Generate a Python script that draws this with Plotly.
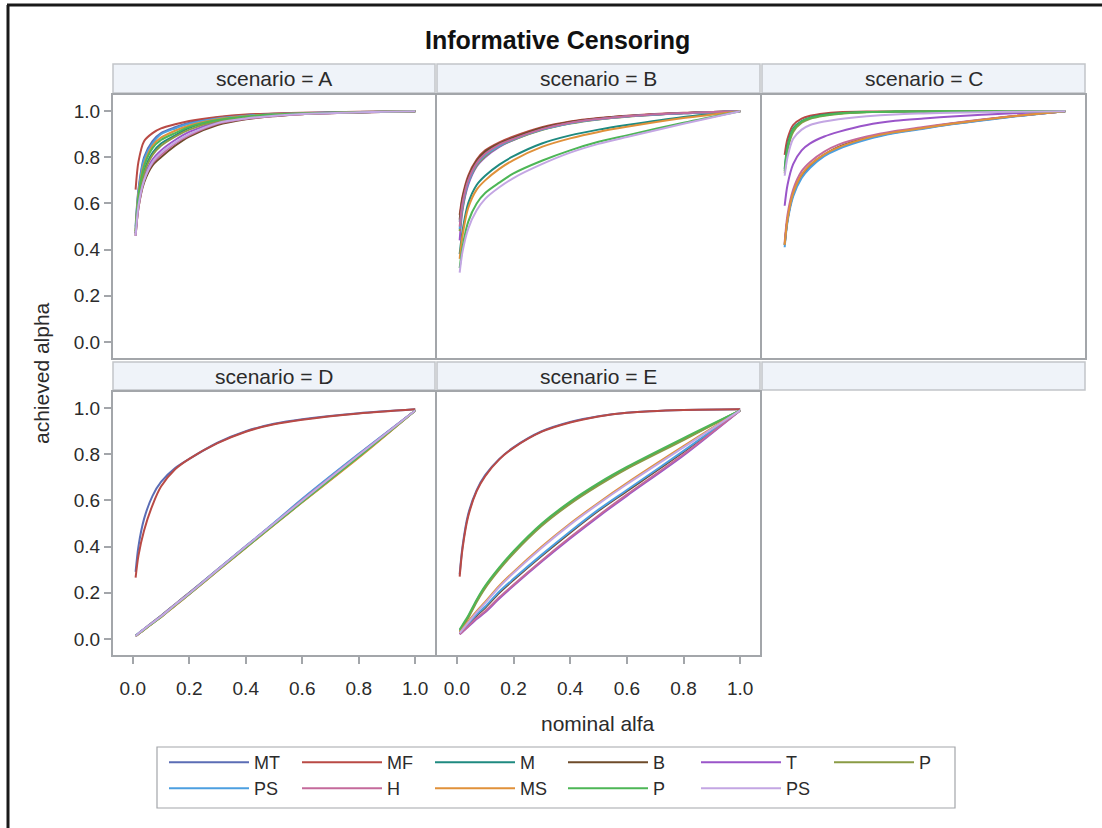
import plotly.graph_objects as go

# ---------------- data ----------------
NOMINAL = [0.01, 0.02, 0.04, 0.07, 0.1, 0.15, 0.2, 0.3, 0.4, 0.5, 0.6, 0.8, 1.0]
SERIES = ["MT", "MF", "M", "B", "T", "P", "PS", "H", "MS", "P", "PS"]
COLORS = ["#5B6DB5", "#B94A45", "#1F8A80", "#6E4B2A", "#9A55C9", "#8A9B45",
          "#4C9FE0", "#C46A9B", "#E0913A", "#4DB656", "#C3A6E3"]
SCENARIOS = ["A", "B", "C", "D", "E"]

# order: MT, MF, M, B, T, P(olive), PS(light blue), H, MS, P(green), PS(lavender)
SCEN_A = [
    [0.50, 0.66, 0.80, 0.87, 0.905, 0.93, 0.95, 0.972, 0.983, 0.989, 0.992, 0.996, 1.0],
    [0.66, 0.78, 0.87, 0.905, 0.925, 0.943, 0.957, 0.975, 0.986, 0.99, 0.993, 0.997, 1.0],
    [0.47, 0.62, 0.74, 0.82, 0.86, 0.895, 0.928, 0.96, 0.975, 0.984, 0.99, 0.995, 1.0],
    [0.46, 0.58, 0.69, 0.765, 0.80, 0.85, 0.89, 0.94, 0.965, 0.978, 0.987, 0.994, 1.0],
    [0.47, 0.60, 0.71, 0.79, 0.83, 0.875, 0.91, 0.952, 0.97, 0.982, 0.988, 0.995, 1.0],
    [0.47, 0.61, 0.73, 0.81, 0.85, 0.89, 0.92, 0.957, 0.973, 0.983, 0.989, 0.995, 1.0],
    [0.49, 0.65, 0.79, 0.86, 0.90, 0.925, 0.945, 0.968, 0.98, 0.987, 0.991, 0.996, 1.0],
    [0.46, 0.58, 0.70, 0.775, 0.81, 0.86, 0.895, 0.945, 0.966, 0.979, 0.987, 0.994, 1.0],
    [0.48, 0.64, 0.77, 0.85, 0.885, 0.915, 0.938, 0.965, 0.978, 0.986, 0.99, 0.996, 1.0],
    [0.48, 0.63, 0.76, 0.84, 0.875, 0.905, 0.932, 0.962, 0.977, 0.985, 0.99, 0.995, 1.0],
    [0.46, 0.59, 0.70, 0.78, 0.82, 0.865, 0.90, 0.948, 0.968, 0.98, 0.988, 0.995, 1.0],
]
SCEN_B = [
    [0.52, 0.61, 0.71, 0.78, 0.82, 0.86, 0.885, 0.925, 0.952, 0.968, 0.978, 0.992, 1.0],
    [0.55, 0.63, 0.72, 0.79, 0.83, 0.865, 0.89, 0.93, 0.955, 0.97, 0.98, 0.993, 1.0],
    [0.38, 0.48, 0.60, 0.68, 0.72, 0.768, 0.805, 0.86, 0.895, 0.92, 0.94, 0.975, 1.0],
    [0.53, 0.62, 0.71, 0.785, 0.825, 0.86, 0.885, 0.927, 0.953, 0.968, 0.979, 0.992, 1.0],
    [0.44, 0.57, 0.68, 0.76, 0.80, 0.845, 0.875, 0.92, 0.948, 0.965, 0.977, 0.991, 1.0],
    [0.48, 0.58, 0.69, 0.765, 0.805, 0.848, 0.876, 0.918, 0.946, 0.964, 0.976, 0.991, 1.0],
    [0.49, 0.59, 0.69, 0.77, 0.81, 0.85, 0.878, 0.92, 0.948, 0.965, 0.977, 0.991, 1.0],
    [0.50, 0.60, 0.70, 0.775, 0.815, 0.855, 0.88, 0.922, 0.95, 0.966, 0.978, 0.992, 1.0],
    [0.36, 0.46, 0.58, 0.66, 0.70, 0.75, 0.788, 0.845, 0.882, 0.91, 0.932, 0.97, 1.0],
    [0.32, 0.41, 0.52, 0.60, 0.645, 0.69, 0.73, 0.785, 0.83, 0.867, 0.895, 0.95, 1.0],
    [0.30, 0.39, 0.49, 0.57, 0.62, 0.67, 0.71, 0.77, 0.82, 0.858, 0.888, 0.945, 1.0],
]
SCEN_C = [
    [0.42, 0.53, 0.64, 0.72, 0.76, 0.81, 0.84, 0.88, 0.907, 0.926, 0.944, 0.975, 1.0],
    [0.81, 0.88, 0.94, 0.968, 0.98, 0.99, 0.995, 0.998, 0.999, 1.0, 1.0, 1.0, 1.0],
    [0.75, 0.85, 0.925, 0.957, 0.972, 0.984, 0.99, 0.996, 0.998, 0.999, 1.0, 1.0, 1.0],
    [0.42, 0.53, 0.64, 0.72, 0.765, 0.812, 0.845, 0.885, 0.91, 0.928, 0.946, 0.976, 1.0],
    [0.59, 0.68, 0.77, 0.83, 0.86, 0.89, 0.91, 0.94, 0.958, 0.968, 0.977, 0.99, 1.0],
    [0.73, 0.83, 0.91, 0.95, 0.967, 0.98, 0.988, 0.995, 0.998, 0.999, 1.0, 1.0, 1.0],
    [0.41, 0.52, 0.63, 0.71, 0.755, 0.805, 0.836, 0.877, 0.905, 0.924, 0.943, 0.974, 1.0],
    [0.43, 0.55, 0.66, 0.74, 0.78, 0.825, 0.855, 0.89, 0.914, 0.931, 0.948, 0.977, 1.0],
    [0.42, 0.53, 0.645, 0.725, 0.768, 0.813, 0.843, 0.883, 0.909, 0.927, 0.945, 0.976, 1.0],
    [0.74, 0.84, 0.92, 0.955, 0.97, 0.982, 0.99, 0.996, 0.998, 0.999, 1.0, 1.0, 1.0],
    [0.72, 0.80, 0.88, 0.92, 0.94, 0.955, 0.965, 0.978, 0.986, 0.99, 0.993, 0.997, 1.0],
]
SCEN_D = [
    [0.29, 0.40, 0.52, 0.62, 0.68, 0.74, 0.78, 0.85, 0.90, 0.932, 0.952, 0.978, 0.995],
    [0.265, 0.36, 0.47, 0.58, 0.66, 0.735, 0.78, 0.848, 0.898, 0.93, 0.95, 0.977, 0.995],
    [0.012, 0.022, 0.041, 0.07, 0.097, 0.147, 0.196, 0.297, 0.397, 0.497, 0.597, 0.79, 0.99],
    [0.013, 0.023, 0.043, 0.072, 0.1, 0.15, 0.2, 0.3, 0.4, 0.5, 0.6, 0.795, 0.99],
    [0.011, 0.021, 0.04, 0.069, 0.096, 0.146, 0.195, 0.296, 0.398, 0.5, 0.605, 0.8, 0.99],
    [0.012, 0.022, 0.04, 0.068, 0.095, 0.145, 0.194, 0.295, 0.395, 0.495, 0.593, 0.788, 0.99],
    [0.013, 0.024, 0.043, 0.071, 0.099, 0.149, 0.199, 0.3, 0.402, 0.503, 0.607, 0.802, 0.99],
    [0.012, 0.022, 0.041, 0.07, 0.098, 0.148, 0.198, 0.298, 0.4, 0.5, 0.602, 0.798, 0.99],
    [0.011, 0.021, 0.039, 0.067, 0.094, 0.144, 0.193, 0.294, 0.394, 0.494, 0.592, 0.785, 0.99],
    [0.012, 0.022, 0.04, 0.068, 0.095, 0.146, 0.195, 0.296, 0.396, 0.496, 0.594, 0.79, 0.99],
    [0.012, 0.023, 0.042, 0.07, 0.097, 0.148, 0.197, 0.299, 0.4, 0.5, 0.6, 0.797, 0.99],
]
SCEN_E = [
    [0.28, 0.40, 0.54, 0.645, 0.71, 0.78, 0.83, 0.90, 0.94, 0.965, 0.98, 0.992, 0.995],
    [0.27, 0.39, 0.53, 0.64, 0.705, 0.778, 0.828, 0.898, 0.938, 0.964, 0.98, 0.992, 0.995],
    [0.035, 0.055, 0.095, 0.165, 0.225, 0.305, 0.375, 0.495, 0.59, 0.67, 0.74, 0.865, 0.99],
    [0.022, 0.036, 0.062, 0.10, 0.135, 0.20, 0.255, 0.36, 0.46, 0.555, 0.64, 0.81, 0.99],
    [0.02, 0.03, 0.052, 0.086, 0.115, 0.175, 0.23, 0.335, 0.435, 0.53, 0.62, 0.795, 0.99],
    [0.03, 0.05, 0.09, 0.16, 0.22, 0.30, 0.37, 0.49, 0.585, 0.665, 0.737, 0.862, 0.99],
    [0.025, 0.038, 0.065, 0.105, 0.14, 0.205, 0.26, 0.365, 0.465, 0.56, 0.645, 0.815, 0.99],
    [0.02, 0.032, 0.055, 0.09, 0.12, 0.18, 0.235, 0.34, 0.44, 0.535, 0.625, 0.80, 0.99],
    [0.03, 0.045, 0.075, 0.12, 0.16, 0.23, 0.29, 0.40, 0.50, 0.59, 0.675, 0.835, 0.99],
    [0.04, 0.06, 0.10, 0.17, 0.23, 0.31, 0.38, 0.50, 0.595, 0.675, 0.745, 0.87, 0.99],
    [0.025, 0.04, 0.07, 0.115, 0.155, 0.225, 0.285, 0.395, 0.495, 0.585, 0.67, 0.83, 0.99],
]
SCEN_DATA = [SCEN_A, SCEN_B, SCEN_C, SCEN_D, SCEN_E]
TICKS = [0.0, 0.2, 0.4, 0.6, 0.8, 1.0]

# ---------------- layout geometry (pixels) ----------------
W, H = 1102, 828
ML, MR = 112, 16
PW = W - ML - MR


def px(x):
    return (x - ML) / PW


def py(y):
    return 1 - y / H


COLS = [(113, 435), (437, 760), (762, 1085)]
ROWS = [(95, 358), (392, 655)]
HEADS = [(64, 93), (362, 390)]
PANELS = [(0, 0), (0, 1), (0, 2), (1, 0), (1, 1)]
FRAME = "#a3a6aa"
LIGHT = "#d4d6d9"
TXT = "#2b2b2b"
FONT = "Arial, Liberation Sans, sans-serif"
TICKFONT = dict(size=19, color=TXT)

fig = go.Figure()

for i, (scen, data) in enumerate(zip(SCENARIOS, SCEN_DATA)):
    ax = "" if i == 0 else str(i + 1)
    for s, (name, color) in enumerate(zip(SERIES, COLORS)):
        fig.add_trace(go.Scatter(
            x=NOMINAL, y=data[s], mode="lines", name=name,
            line=dict(color=color, width=2, shape="spline", smoothing=0.8),
            legendgroup=str(s), showlegend=(i == 0),
            legend="legend" if s < 6 else "legend2",
            xaxis="x" + ax, yaxis="y" + ax, hoverinfo="skip"))

leg_common = dict(orientation="h", xanchor="left", yanchor="top",
                  borderwidth=0, bgcolor="rgba(0,0,0,0)",
                  itemwidth=80, entrywidth=38, font=dict(size=18, color=TXT),
                  tracegroupgap=0)

layout = dict(
    width=W, height=H, paper_bgcolor="white", plot_bgcolor="white",
    margin=dict(l=ML, r=MR, t=0, b=0),
    font=dict(family=FONT, size=16, color=TXT),
    showlegend=True,
    legend=dict(x=px(164), y=py(744), **leg_common),
    legend2=dict(x=px(164), y=py(770), **leg_common),
)

shapes = []
annotations = []
for i, (r, c) in enumerate(PANELS):
    k = "" if i == 0 else str(i + 1)
    layout["xaxis" + k] = dict(
        domain=[px(COLS[c][0]), px(COLS[c][1])], anchor="y" + k,
        range=[-0.07, 1.07], showgrid=False, zeroline=False,
        showline=True, mirror=True, linecolor=FRAME, linewidth=2,
        ticks="outside" if r == 1 else "", ticklen=7, tickwidth=2, tickcolor=FRAME,
        tickvals=TICKS, tickformat=".1f", showticklabels=(r == 1),
        ticklabelstandoff=8, tickfont=TICKFONT)
    layout["yaxis" + k] = dict(
        domain=[py(ROWS[r][1]), py(ROWS[r][0])], anchor="x" + k,
        range=[-0.07, 1.07], showgrid=False, zeroline=False,
        showline=True, mirror=True, linecolor=FRAME, linewidth=2,
        ticks="outside" if c == 0 else "", ticklen=7, tickwidth=2, tickcolor=FRAME,
        tickvals=TICKS, tickformat=".1f", showticklabels=(c == 0),
        tickfont=TICKFONT)

# empty cell: light frame, x axis ticks below
layout["xaxis6"] = dict(
    domain=[px(COLS[2][0]), px(COLS[2][1])], anchor="y6",
    range=[-0.07, 1.07], showgrid=False, zeroline=False,
    showline=True, mirror=True, linecolor=LIGHT, linewidth=1.5,
    ticks="outside", ticklen=7, tickwidth=2, tickcolor=FRAME,
    tickvals=TICKS, tickformat=".1f", ticklabelstandoff=8, tickfont=TICKFONT)
layout["yaxis6"] = dict(
    domain=[py(ROWS[1][1]), py(ROWS[1][0])], anchor="x6",
    range=[-0.07, 1.07], showgrid=False, zeroline=False,
    showline=True, mirror=True, linecolor=LIGHT, linewidth=1.5,
    ticks="", showticklabels=False)

# header strips
labels = ["scenario = A", "scenario = B", "scenario = C", "scenario = D", "scenario = E", ""]
cells = [(0, 0), (0, 1), (0, 2), (1, 0), (1, 1), (1, 2)]
for lab, (r, c) in zip(labels, cells):
    shapes.append(dict(type="rect", xref="paper", yref="paper",
                       x0=px(COLS[c][0]), x1=px(COLS[c][1]),
                       y0=py(HEADS[r][1]), y1=py(HEADS[r][0]),
                       fillcolor="#eff3f9", line=dict(color="#c2c5c9", width=1.5),
                       layer="below"))
    if lab:
        annotations.append(dict(text=lab, xref="paper", yref="paper",
                                x=px((COLS[c][0] + COLS[c][1]) / 2),
                                y=py((HEADS[r][0] + HEADS[r][1]) / 2),
                                showarrow=False, font=dict(size=21, color=TXT),
                                xanchor="center", yanchor="middle"))

# legend box
shapes.append(dict(type="rect", xref="paper", yref="paper",
                   x0=px(157), x1=px(955), y0=py(808), y1=py(747),
                   line=dict(color=FRAME, width=1.2), fillcolor="rgba(0,0,0,0)"))

# outer black frame (left and top)
shapes.append(dict(type="line", xref="paper", yref="paper",
                   x0=px(8), x1=px(8), y0=py(830), y1=py(5),
                   line=dict(color="#1a1a1a", width=3)))
shapes.append(dict(type="line", xref="paper", yref="paper",
                   x0=px(7), x1=px(1104), y0=py(5), y1=py(5),
                   line=dict(color="#1a1a1a", width=3)))

annotations.append(dict(text="<b>Informative Censoring</b>", xref="paper", yref="paper",
                        x=px(557), y=py(40), showarrow=False,
                        font=dict(size=25, color="#111111"),
                        xanchor="center", yanchor="middle"))
annotations.append(dict(text="nominal alfa", xref="paper", yref="paper",
                        x=px(598), y=py(723), showarrow=False,
                        font=dict(size=21, color=TXT), xanchor="center", yanchor="middle"))
annotations.append(dict(text="achieved alpha", xref="paper", yref="paper",
                        x=px(41), y=py(373), showarrow=False, textangle=-90,
                        font=dict(size=21, color=TXT), xanchor="center", yanchor="middle"))

layout["shapes"] = shapes
layout["annotations"] = annotations
fig.update_layout(**layout)

fig.write_html("out.html",
               config={"displayModeBar": False},
               post_script="document.body.style.margin='0';"
                           "document.body.style.overflow='hidden';")
